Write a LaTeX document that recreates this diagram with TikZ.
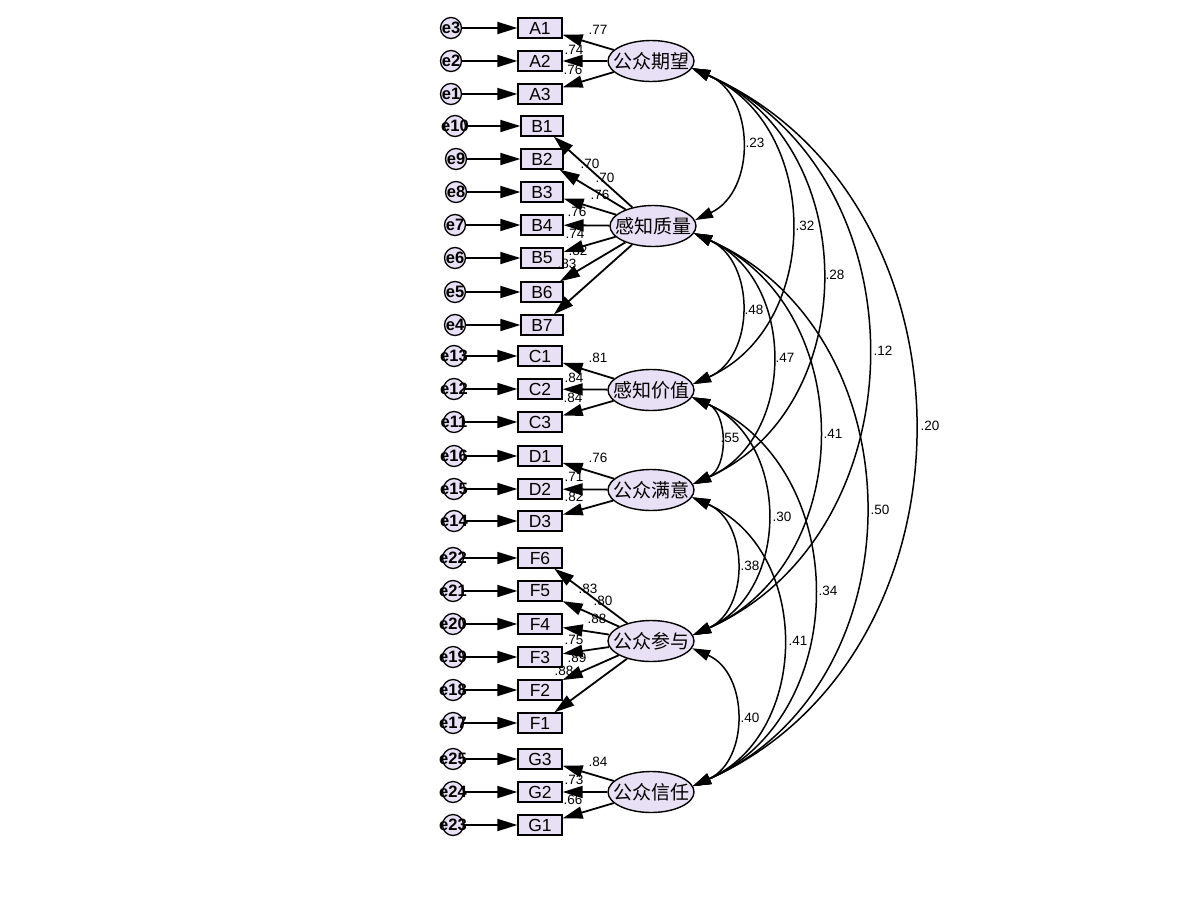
\documentclass[tikz,border=0pt]{standalone}
\usepackage{fontspec}
\setmainfont{Liberation Sans}
\newfontfamily\cjk{Noto Sans CJK SC}
\usetikzlibrary{arrows.meta,shapes.geometric}
\definecolor{lav}{RGB}{232,224,244}
\begin{document}
\begin{tikzpicture}[x=1pt,y=1pt,
  obs/.style={rectangle,draw,line width=1.3pt,fill=lav,minimum width=44pt,minimum height=20pt,inner sep=0pt,font=\fontsize{17.5}{17.5}\selectfont},
  obsb/.style={obs,minimum width=42pt},
  err/.style={circle,draw,line width=1.3pt,fill=lav,minimum size=21pt,inner sep=0pt},
  errlbl/.style={font=\bfseries\fontsize{16.5}{16.5}\selectfont,inner sep=0pt},
  lat/.style={ellipse,draw,line width=1.4pt,fill=lav,minimum width=86pt,minimum height=41pt,inner sep=0pt},
  latlbl/.style={font=\cjk\fontsize{19}{19}\selectfont,inner sep=0pt},
  arr/.style={line width=1.8pt,-{Triangle[length=20pt,width=12pt]}},
  cov/.style={line width=1.5pt,{Triangle[length=18pt,width=11pt]}-{Triangle[length=18pt,width=11pt]},bend left=66,looseness=1.15},
  lbl/.style={font=\fontsize{13.5}{13.5}\selectfont,inner sep=0pt}]
\path[use as bounding box] (0,0) rectangle (1200,-900);

% latent variables
\foreach \n/\x/\y/\t in {LA/651/61/公众期望,LB/653/226/感知质量,LC/651/390/感知价值,
  LD/651/490/公众满意,LF/651/641/公众参与,LG/651/792/公众信任}{
  \node[lat] (\n) at (\x,-\y) {};
  \node[latlbl] (\n t) at (\x,-\y) {\t};
}

% observed variables
\node[obs] (A1) at (540,-28) {A1};
\node[obs] (A2) at (540,-61) {A2};
\node[obs] (A3) at (540,-94) {A3};
\node[obsb] (B1) at (542,-126) {B1};
\node[obsb] (B2) at (542,-159) {B2};
\node[obsb] (B3) at (542,-192) {B3};
\node[obsb] (B4) at (542,-225) {B4};
\node[obsb] (B5) at (542,-258) {B5};
\node[obsb] (B6) at (542,-292) {B6};
\node[obsb] (B7) at (542,-325) {B7};
\node[obs] (C1) at (540,-356) {C1};
\node[obs] (C2) at (540,-389) {C2};
\node[obs] (C3) at (540,-422) {C3};
\node[obs] (D1) at (540,-456) {D1};
\node[obs] (D2) at (540,-489) {D2};
\node[obs] (D3) at (540,-521) {D3};
\node[obs] (F6) at (540,-558) {F6};
\node[obs] (F5) at (540,-591) {F5};
\node[obs] (F4) at (540,-624) {F4};
\node[obs] (F3) at (540,-657) {F3};
\node[obs] (F2) at (540,-690) {F2};
\node[obs] (F1) at (540,-723) {F1};
\node[obs] (G3) at (540,-759) {G3};
\node[obs] (G2) at (540,-792) {G2};
\node[obs] (G1) at (540,-825) {G1};

% error terms
\foreach \e/\b/\x/\y in {e3/A1/451/28,e2/A2/451/61,e1/A3/451/94,
  e10/B1/455/126,e9/B2/456/159,e8/B3/456/192,e7/B4/455/225,e6/B5/455/258,e5/B6/455/292,e4/B7/455/325,
  e13/C1/454/356,e12/C2/454/389,e11/C3/454/422,
  e16/D1/454/456,e15/D2/454/489,e14/D3/454/521,
  e22/F6/453/558,e21/F5/453/591,e20/F4/453/624,e19/F3/453/657,e18/F2/453/690,e17/F1/453/723,
  e25/G3/453/759,e24/G2/453/792,e23/G1/453/825}{
  \node[err] (\e) at (\x,-\y) {};
  \node[errlbl] (\e t) at (\x,-\y) {\e};
  \draw[arr] (\e) -- (\b);
}

% loadings
\foreach \l/\b in {LA/A1,LA/A2,LA/A3,LB/B1,LB/B2,LB/B3,LB/B4,LB/B5,LB/B6,LB/B7,
  LC/C1,LC/C2,LC/C3,LD/D1,LD/D2,LD/D3,LF/F6,LF/F5,LF/F4,LF/F3,LF/F2,LF/F1,
  LG/G3,LG/G2,LG/G1}{
  \draw[arr] (\l) -- (\b);
}

% loading labels
\foreach \t/\x/\y [count=\i] in {.77/598/30,.74/574/50,.76/573/70,
  .70/590/164,.70/605/178,.76/600/195,.76/577/212,.74/575/234,.82/578/251,.83/567/264,
  .81/598/358,.84/574/378,.84/573/398,
  .76/598/458,.71/574/477,.82/574/497,
  .83/588/589,.80/603/601,.88/597/619,.75/574/640,.89/577/658,.88/564/671,
  .84/598/762,.73/574/780,.66/573/800}{
  \node[lbl] (ld\i) at (\x,-\y) {\t};
}

% covariances
\foreach \u/\d/\t/\x/\y [count=\i] in {LA/LB/.23/755/143,LA/LC/.32/805/226,LA/LD/.28/835/275,
  LA/LF/.12/883/351,LA/LG/.20/930/426,LB/LC/.48/754/310,LB/LD/.47/785/358,
  LB/LF/.41/833/434,LB/LG/.50/880/510,LC/LD/.55/730/438,LC/LF/.30/782/517,
  LC/LG/.34/828/591,LD/LF/.38/750/566,LD/LG/.41/798/641,LF/LG/.40/750/718}{
  \draw[cov] (\u.-10) to (\d.8);
  \node[lbl] (cv\i) at (\x,-\y) {\t};
}
\end{tikzpicture}
\end{document}
